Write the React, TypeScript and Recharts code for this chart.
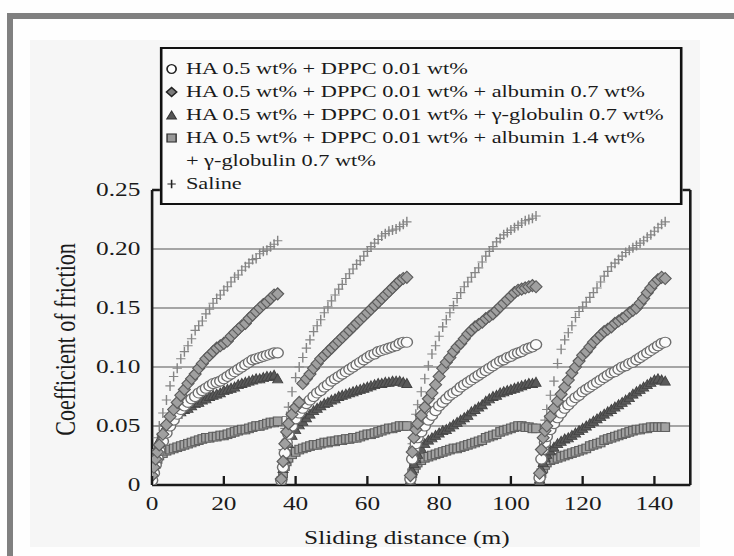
import {
  CartesianGrid,
  ReferenceLine,
  Scatter,
  ScatterChart,
  XAxis,
  YAxis,
} from "recharts";

// the source image is stretched sideways, so the chart is drawn narrow and widened
const STRETCH = 1.3;
const CHART_W = 565;
const CHART_H = 556;
const FONT = '"Liberation Serif", "Times New Roman", serif';
const INK = "#1a1a1a";

// each test run restarts the sliding distance; local distance within a run (m)
const RUN_START = [0, 36, 72, 108];
const LOCAL_X = [
  0, 0.5, 1, 1.5, 2, 3, 4, 5, 6, 7, 8, 9, 10, 11, 12, 13, 14, 15, 16, 17, 18,
  19, 20, 21, 22, 23, 24, 25, 26, 27, 28, 29, 30, 31, 32, 33, 34, 35,
];

const X_TICKS = [0, 20, 40, 60, 80, 100, 120, 140];
const Y_TICKS = [0, 0.05, 0.1, 0.15, 0.2, 0.25];

// HA 0.5 wt% + DPPC 0.01 wt%
const HA_DPPC = [
  [0.004, 0.01, 0.017, 0.023, 0.029, 0.037, 0.044, 0.05, 0.055, 0.06, 0.064, 0.067, 0.07, 0.073, 0.075, 0.078, 0.08, 0.082, 0.084, 0.086, 0.087, 0.088, 0.09, 0.092, 0.094, 0.096, 0.098, 0.1, 0.102, 0.104, 0.106, 0.107, 0.108, 0.109, 0.11, 0.111, 0.112, 0.112],
  [0.004, 0.015, 0.027, 0.036, 0.043, 0.05, 0.056, 0.061, 0.065, 0.069, 0.072, 0.075, 0.078, 0.08, 0.083, 0.085, 0.088, 0.09, 0.092, 0.094, 0.096, 0.098, 0.1, 0.102, 0.104, 0.106, 0.108, 0.11, 0.111, 0.113, 0.114, 0.115, 0.116, 0.117, 0.118, 0.12, 0.121, 0.121],
  [0.005, 0.022, 0.03, 0.035, 0.04, 0.045, 0.05, 0.055, 0.059, 0.063, 0.067, 0.07, 0.073, 0.076, 0.078, 0.08, 0.083, 0.085, 0.087, 0.089, 0.091, 0.093, 0.095, 0.097, 0.099, 0.101, 0.103, 0.105, 0.106, 0.108, 0.109, 0.111, 0.112, 0.113, 0.115, 0.116, 0.117, 0.119],
  [0.006, 0.022, 0.03, 0.036, 0.041, 0.047, 0.052, 0.057, 0.061, 0.065, 0.068, 0.071, 0.074, 0.076, 0.079, 0.081, 0.083, 0.085, 0.087, 0.089, 0.091, 0.093, 0.095, 0.096, 0.098, 0.1, 0.101, 0.103, 0.104, 0.106, 0.108, 0.11, 0.112, 0.114, 0.116, 0.118, 0.12, 0.121],
];

// + albumin 0.7 wt%
const ALBUMIN = [
  [0.008, 0.015, 0.022, 0.028, 0.034, 0.043, 0.051, 0.058, 0.064, 0.07, 0.076, 0.081, 0.086, 0.09, 0.094, 0.099, 0.103, 0.107, 0.11, 0.113, 0.116, 0.118, 0.12, 0.122, 0.126, 0.129, 0.132, 0.135, 0.137, 0.141, 0.144, 0.147, 0.15, 0.153, 0.155, 0.158, 0.161, 0.162],
  [0.005, 0.02, 0.035, 0.045, 0.052, 0.06, 0.066, 0.07, 0.086, 0.09, 0.094, 0.099, 0.103, 0.107, 0.11, 0.113, 0.116, 0.119, 0.122, 0.125, 0.128, 0.131, 0.134, 0.137, 0.14, 0.143, 0.146, 0.149, 0.152, 0.155, 0.158, 0.161, 0.164, 0.167, 0.17, 0.173, 0.175, 0.176],
  [0.008, 0.028, 0.04, 0.047, 0.052, 0.059, 0.066, 0.073, 0.078, 0.085, 0.092, 0.099, 0.104, 0.108, 0.113, 0.117, 0.12, 0.124, 0.128, 0.131, 0.134, 0.136, 0.138, 0.141, 0.143, 0.145, 0.148, 0.151, 0.154, 0.157, 0.16, 0.163, 0.165, 0.166, 0.167, 0.168, 0.169, 0.168],
  [0.01, 0.03, 0.04, 0.046, 0.05, 0.058, 0.065, 0.071, 0.077, 0.083, 0.089, 0.095, 0.1, 0.105, 0.11, 0.113, 0.117, 0.121, 0.124, 0.127, 0.13, 0.132, 0.134, 0.137, 0.139, 0.141, 0.143, 0.146, 0.148, 0.15, 0.154, 0.158, 0.163, 0.167, 0.171, 0.174, 0.176, 0.175],
];

// + γ-globulin 0.7 wt%
const GLOBULIN = [
  [0.006, 0.015, 0.024, 0.032, 0.038, 0.045, 0.05, 0.054, 0.057, 0.06, 0.062, 0.064, 0.065, 0.067, 0.069, 0.07, 0.072, 0.073, 0.075, 0.076, 0.077, 0.078, 0.08, 0.081, 0.082, 0.083, 0.085, 0.086, 0.087, 0.088, 0.089, 0.09, 0.09, 0.091, 0.092, 0.092, 0.093, 0.09],
  [0.004, 0.014, 0.022, 0.029, 0.035, 0.042, 0.047, 0.051, 0.054, 0.057, 0.06, 0.063, 0.065, 0.067, 0.069, 0.07, 0.072, 0.073, 0.075, 0.076, 0.077, 0.078, 0.079, 0.08, 0.081, 0.082, 0.083, 0.084, 0.085, 0.086, 0.086, 0.087, 0.087, 0.088, 0.088, 0.088, 0.087, 0.086],
  [0.004, 0.012, 0.018, 0.022, 0.026, 0.031, 0.035, 0.038, 0.04, 0.042, 0.044, 0.046, 0.047, 0.049, 0.051, 0.053, 0.055, 0.057, 0.059, 0.062, 0.064, 0.066, 0.068, 0.071, 0.073, 0.075, 0.076, 0.078, 0.079, 0.08, 0.081, 0.082, 0.083, 0.084, 0.085, 0.086, 0.086, 0.087],
  [0.005, 0.013, 0.019, 0.023, 0.026, 0.029, 0.032, 0.035, 0.037, 0.039, 0.04, 0.042, 0.044, 0.046, 0.048, 0.05, 0.052, 0.054, 0.056, 0.058, 0.06, 0.062, 0.064, 0.066, 0.068, 0.07, 0.072, 0.074, 0.077, 0.079, 0.081, 0.083, 0.085, 0.087, 0.089, 0.09, 0.089, 0.088],
];

// + albumin 1.4 wt% + γ-globulin 0.7 wt%
const ALB_GLOB = [
  [0.004, 0.012, 0.018, 0.022, 0.025, 0.027, 0.029, 0.03, 0.031, 0.032, 0.033, 0.034, 0.035, 0.036, 0.037, 0.038, 0.039, 0.04, 0.04, 0.041, 0.041, 0.042, 0.042, 0.043, 0.044, 0.045, 0.046, 0.047, 0.047, 0.048, 0.049, 0.05, 0.05, 0.051, 0.052, 0.053, 0.053, 0.054],
  [0.003, 0.01, 0.016, 0.02, 0.023, 0.026, 0.028, 0.03, 0.031, 0.032, 0.033, 0.034, 0.034, 0.035, 0.036, 0.036, 0.037, 0.037, 0.038, 0.038, 0.039, 0.039, 0.04, 0.04, 0.041, 0.042, 0.043, 0.043, 0.044, 0.045, 0.046, 0.047, 0.048, 0.048, 0.049, 0.05, 0.05, 0.05],
  [0.004, 0.01, 0.014, 0.017, 0.019, 0.021, 0.023, 0.024, 0.025, 0.026, 0.027, 0.028, 0.029, 0.03, 0.031, 0.031, 0.032, 0.033, 0.034, 0.035, 0.036, 0.037, 0.038, 0.04, 0.041, 0.042, 0.043, 0.045, 0.046, 0.047, 0.048, 0.049, 0.05, 0.05, 0.049, 0.049, 0.048, 0.048],
  [0.004, 0.01, 0.014, 0.017, 0.019, 0.021, 0.022, 0.023, 0.024, 0.025, 0.026, 0.027, 0.028, 0.029, 0.03, 0.031, 0.033, 0.034, 0.035, 0.036, 0.038, 0.039, 0.04, 0.041, 0.042, 0.043, 0.044, 0.045, 0.046, 0.047, 0.047, 0.048, 0.048, 0.049, 0.049, 0.049, 0.049, 0.049],
];

// Saline
const SALINE = [
  [0.005, 0.018, 0.03, 0.04, 0.05, 0.061, 0.072, 0.084, 0.092, 0.099, 0.107, 0.113, 0.118, 0.124, 0.131, 0.135, 0.139, 0.145, 0.149, 0.154, 0.158, 0.161, 0.165, 0.168, 0.172, 0.176, 0.178, 0.182, 0.185, 0.188, 0.191, 0.192, 0.196, 0.198, 0.199, 0.202, 0.204, 0.207],
  [0.006, 0.03, 0.048, 0.058, 0.066, 0.079, 0.091, 0.1, 0.108, 0.116, 0.123, 0.13, 0.135, 0.14, 0.146, 0.151, 0.156, 0.161, 0.166, 0.17, 0.175, 0.179, 0.183, 0.187, 0.19, 0.194, 0.198, 0.202, 0.205, 0.208, 0.211, 0.213, 0.215, 0.216, 0.217, 0.219, 0.221, 0.223],
  [0.008, 0.035, 0.05, 0.06, 0.068, 0.079, 0.09, 0.101, 0.111, 0.118, 0.126, 0.134, 0.14, 0.146, 0.152, 0.158, 0.163, 0.168, 0.172, 0.176, 0.18, 0.184, 0.189, 0.194, 0.198, 0.202, 0.206, 0.209, 0.212, 0.214, 0.216, 0.218, 0.22, 0.222, 0.224, 0.225, 0.226, 0.228],
  [0.01, 0.03, 0.045, 0.055, 0.064, 0.076, 0.088, 0.103, 0.115, 0.123, 0.129, 0.135, 0.142, 0.147, 0.151, 0.155, 0.159, 0.163, 0.167, 0.172, 0.177, 0.181, 0.185, 0.188, 0.191, 0.194, 0.197, 0.199, 0.201, 0.203, 0.205, 0.207, 0.21, 0.212, 0.215, 0.218, 0.221, 0.223],
];

type Pt = { x: number; y: number };

function toPoints(runs: number[][]): Pt[] {
  return runs.flatMap((run, r) =>
    run.map((y, i) => ({ x: RUN_START[r] + LOCAL_X[i], y })),
  );
}

// marker shapes (drawn in the narrow frame, so widths are a bit smaller)
function CircleMark({ cx, cy }: any) {
  return <ellipse cx={cx} cy={cy} rx={4.3} ry={5} fill="#fbfbfb" stroke="#6e6e6e" strokeWidth={1.1} />;
}

function DiamondMark({ cx, cy }: any) {
  return (
    <path
      d={`M${cx},${cy - 6}L${cx + 4.6},${cy}L${cx},${cy + 6}L${cx - 4.6},${cy}Z`}
      fill="#a0a0a0"
      stroke="#5c5c5c"
      strokeWidth={1}
    />
  );
}

function TriangleMark({ cx, cy }: any) {
  return (
    <path
      d={`M${cx},${cy - 5}L${cx + 3.9},${cy + 4}L${cx - 3.9},${cy + 4}Z`}
      fill="#5a5a5a"
      stroke="#444"
      strokeWidth={0.8}
    />
  );
}

function SquareMark({ cx, cy }: any) {
  return (
    <rect x={cx - 3.3} y={cy - 4.3} width={6.6} height={8.6} fill="#a3a3a3" stroke="#5f5f5f" strokeWidth={1} />
  );
}

function PlusMark({ cx, cy }: any) {
  return (
    <path
      d={`M${cx - 3.6},${cy}H${cx + 3.6}M${cx},${cy - 5}V${cy + 5}`}
      stroke="#858585"
      strokeWidth={1.1}
      fill="none"
    />
  );
}

function XTick({ x, y, payload }: any) {
  return (
    <g>
      <line x1={x} x2={x} y1={y} y2={y - 9} stroke={INK} strokeWidth={1.8} />
      <text x={x} y={y + 19} textAnchor="middle" dominantBaseline="central" fontFamily={FONT} fontSize={19.5} fill={INK}>
        {payload.value}
      </text>
    </g>
  );
}

function YTick({ x, y, payload }: any) {
  const v = payload.value as number;
  return (
    <text x={x - 9} y={y} textAnchor="end" dominantBaseline="central" fontFamily={FONT} fontSize={19.5} fill={INK}>
      {v === 0 ? "0" : v.toFixed(2)}
    </text>
  );
}

function YTitle({ viewBox }: any) {
  const cx = 50;
  const cy = viewBox.y + viewBox.height / 2 + 2;
  return (
    <text
      x={cx}
      y={cy}
      transform={`rotate(-90 ${cx} ${cy})`}
      textAnchor="middle"
      dominantBaseline="central"
      fontFamily={FONT}
      fontSize={22}
      fill={INK}
    >
      Coefficient of friction
    </text>
  );
}

function XTitle({ viewBox }: any) {
  const cx = viewBox.x + viewBox.width / 2 - 11;
  return (
    <text x={cx} y={538} textAnchor="middle" dominantBaseline="central" fontFamily={FONT} fontSize={19.5} fill={INK}>
      Sliding distance (m)
    </text>
  );
}

const LEGEND_ROWS = [
  { mark: "circle", text: "HA 0.5 wt% + DPPC 0.01 wt%" },
  { mark: "diamond", text: "HA 0.5 wt% + DPPC 0.01 wt% + albumin 0.7 wt%" },
  { mark: "triangle", text: "HA 0.5 wt% + DPPC 0.01 wt% + γ-globulin 0.7 wt%" },
  { mark: "square", text: "HA 0.5 wt% + DPPC 0.01 wt% + albumin 1.4 wt%" },
  { mark: "none", text: "+ γ-globulin 0.7 wt%" },
  { mark: "plus", text: "Saline" },
];

function LegendMark({ kind }: { kind: string }) {
  return (
    <svg width={10} height={12} style={{ flex: "none", marginRight: 6 }}>
      {kind === "circle" && <ellipse cx={5} cy={6} rx={3.5} ry={4.3} fill="#fff" stroke="#222" strokeWidth={1.3} />}
      {kind === "diamond" && <path d="M5,1.5L9,6L5,10.5L1,6Z" fill="#7a7a7a" stroke="#222" strokeWidth={1.2} />}
      {kind === "triangle" && <path d="M5,2L8.8,10H1.2Z" fill="#555" stroke="#333" strokeWidth={0.8} />}
      {kind === "square" && <rect x={1.5} y={2} width={7} height={8} fill="#999" stroke="#333" strokeWidth={1.1} />}
      {kind === "plus" && <path d="M1.8,6H8.2M5,1.8V10.2" stroke="#222" strokeWidth={1.2} fill="none" />}
    </svg>
  );
}

function LegendBox() {
  return (
    <div
      style={{
        position: "absolute",
        left: 123,
        top: 47,
        width: 402,
        height: 158,
        border: "2px solid #111",
        background: "#fafafa",
        boxSizing: "border-box",
        padding: "8px 0 0 2px",
        fontFamily: FONT,
        fontSize: 17.2,
        color: INK,
        whiteSpace: "nowrap",
      }}
    >
      {LEGEND_ROWS.map((row) => (
        <div key={row.text} style={{ display: "flex", alignItems: "center", height: 23 }}>
          {row.mark === "none" ? (
            <span style={{ width: 16, flex: "none" }} />
          ) : (
            <LegendMark kind={row.mark} />
          )}
          <span>{row.text}</span>
        </div>
      ))}
    </div>
  );
}

export default function App() {
  return (
    <div style={{ position: "absolute", left: 0, top: 0, width: 734, height: 556, background: "#fefefe", overflow: "hidden" }}>
      <div
        style={{
          position: "absolute",
          left: 7,
          top: 13,
          width: 727,
          height: 543,
          borderTop: "6px solid #808080",
          borderLeft: "6px solid #808080",
          boxSizing: "border-box",
        }}
      />
      <div style={{ position: "absolute", left: 30, top: 40, width: 670, height: 507, background: "#f6f6f6" }} />
      <div
        style={{
          position: "absolute",
          left: 0,
          top: 0,
          width: CHART_W,
          height: CHART_H,
          transform: `scaleX(${STRETCH})`,
          transformOrigin: "0 0",
        }}
      >
        <ScatterChart width={CHART_W} height={CHART_H} margin={{ top: 190, right: 34, bottom: 41, left: 57 }}>
          <CartesianGrid vertical={false} stroke="#8a8a8a" strokeWidth={1.3} />
          <XAxis
            type="number"
            dataKey="x"
            domain={[0, 150]}
            ticks={X_TICKS}
            allowDataOverflow
            height={30}
            tickSize={0}
            tickMargin={0}
            tickLine={false}
            tick={<XTick />}
            axisLine={{ stroke: INK, strokeWidth: 2.4 }}
            label={XTitle}
          />
          <YAxis
            type="number"
            dataKey="y"
            domain={[0, 0.25]}
            ticks={Y_TICKS}
            allowDataOverflow
            width={60}
            tickSize={0}
            tickMargin={0}
            tickLine={false}
            tick={<YTick />}
            axisLine={{ stroke: INK, strokeWidth: 2 }}
            label={YTitle}
          />
          <ReferenceLine y={0.25} stroke={INK} strokeWidth={2.4} />
          <ReferenceLine x={150} stroke={INK} strokeWidth={2} />
          <Scatter name="Saline" data={toPoints(SALINE)} shape={PlusMark} isAnimationActive={false} />
          <Scatter name="albumin 1.4 + γ-globulin" data={toPoints(ALB_GLOB)} shape={SquareMark} isAnimationActive={false} />
          <Scatter name="γ-globulin" data={toPoints(GLOBULIN)} shape={TriangleMark} isAnimationActive={false} />
          <Scatter name="HA + DPPC" data={toPoints(HA_DPPC)} shape={CircleMark} isAnimationActive={false} />
          <Scatter name="albumin 0.7" data={toPoints(ALBUMIN)} shape={DiamondMark} isAnimationActive={false} />
        </ScatterChart>
        <LegendBox />
      </div>
    </div>
  );
}
